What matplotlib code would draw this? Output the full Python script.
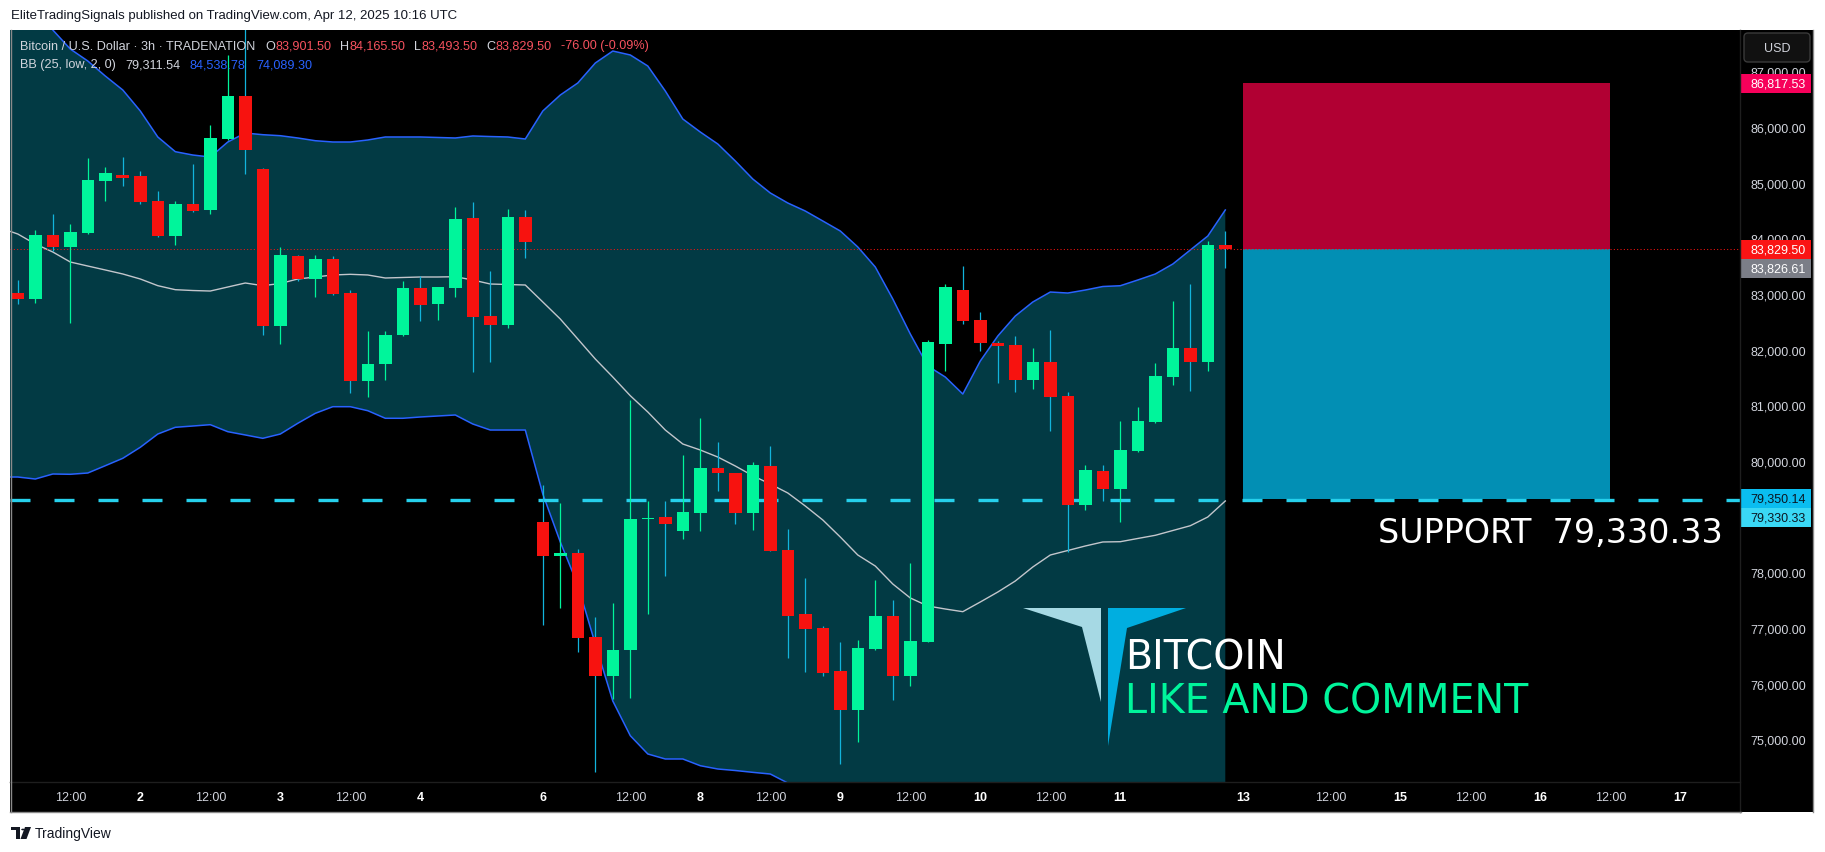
import numpy as np
import matplotlib.pyplot as plt
from matplotlib.patches import Rectangle, Polygon, FancyBboxPatch, Circle
from matplotlib.lines import Line2D
from matplotlib.transforms import IdentityTransform

plt.rcParams['font.family'] = ['Liberation Sans', 'DejaVu Sans']

W, H, DPI = 1825, 853, 100

# BTCUSD 3h bars (TRADENATION), Apr 1 - Apr 11 2025
opens = [83047, 82940, 84089, 83879, 84125, 85065, 85167, 85149, 84700, 84077,
         84646, 84538, 85814, 86586, 85275, 82460, 83712, 83299, 83658, 83047,
         81472, 81772, 82293, 83137, 82850, 83137, 84395, 82634, 82478, 84413,
         78939, 78328, 78377, 76868, 76173, 76634, 78988, 79029, 78778, 79101,
         79904, 79814, 79101, 79940, 78431, 77281, 77030, 76257, 75562, 76652,
         77245, 76173, 76784, 82137, 83101, 82562, 82155, 82113, 81490, 81808,
         81197, 79244, 79850, 79532, 80212, 80736, 81544, 82059, 81813, 83901.5]
highs = [83281, 84179, 84466, 84287, 85472, 85311, 85490, 85239, 84880, 84700,
         85365, 86065, 87323, 88500, 85290, 83874, 83730, 83730, 83712, 83101,
         82365, 82365, 83263, 83353, 83160, 84592, 84682, 83443, 84556, 84538,
         79598, 79275, 78449, 77227, 77478, 81125, 79311, 79311, 80137, 80802,
         80371, 79820, 80012, 80299, 78808, 77933, 77071, 76784, 76814, 77897,
         77532, 78197, 82203, 83209, 83532, 82706, 82191, 82275, 82059, 82383,
         81269, 79958, 79958, 80748, 81000, 81790, 82904, 83209, 83982, 84165.5]
lows = [82850, 82868, 83796, 82514, 84110, 84705, 84969, 84646, 84060, 83915,
        84510, 84466, 85790, 85185, 82293, 82131, 83263, 82975, 83011, 81256,
        81184, 81490, 82280, 82550, 82568, 82975, 81634, 81813, 82424, 83681,
        77089, 77384, 76604, 74438, 75754, 75767, 77276, 77969, 78628, 78767,
        79496, 78903, 78795, 78410, 76496, 76245, 76173, 74592, 74987, 76640,
        75742, 75993, 76773, 81652, 82496, 82011, 81436, 81274, 81328, 80574,
        78400, 79155, 79317, 78939, 80200, 80720, 81400, 81292, 81652, 83493.5]
closes = [82940, 84089, 83879, 84143, 85077, 85203, 85113, 84682, 84077, 84646,
          84526, 85832, 86586, 85621, 82460, 83730, 83299, 83658, 83029, 81472,
          81772, 82293, 83137, 82837, 83155, 84377, 82622, 82478, 84413, 83969,
          78328, 78371, 76856, 76173, 76634, 78988, 79000, 78903, 79114, 79904,
          79819, 79101, 79958, 78418, 77251, 77017, 76227, 75562, 76670, 77245,
          76173, 76796, 82167, 83155, 82550, 82155, 82101, 81490, 81808, 81184,
          79244, 79868, 79532, 80227, 80748, 81557, 82059, 81813, 83905.5, 83829.5]

# BB (25, low, 2, 0); the first value is the bar just left of the visible area
bb_upper = [88800,
            88472, 88149, 87772, 87430, 87215, 86945, 86694, 86317, 85850, 85586,
            85526, 85490, 85760, 85921, 85891, 85873, 85832, 85783, 85760, 85760,
            85796, 85850, 85850, 85850, 85841, 85832, 85868, 85858, 85850, 85814,
            86317, 86604, 86820, 87179, 87394, 87323, 87125, 86676, 86173, 85939,
            85724, 85419, 85095, 84844, 84664, 84520, 84341, 84161, 83874, 83514,
            82940, 82311, 81736, 81538, 81233, 81826, 82275, 82634, 82886, 83065,
            83047, 83101, 83164, 83178, 83281, 83389, 83568, 83820, 84071, 84538.78]
bb_basis = [84215,
            84107, 83928, 83784, 83604, 83532, 83461, 83389, 83299, 83179, 83107,
            83092, 83083, 83155, 83227, 83179, 83218, 83299, 83335, 83371, 83383,
            83371, 83317, 83326, 83335, 83335, 83340, 83281, 83209, 83200, 83191,
            82886, 82580, 82221, 81862, 81538, 81202, 80910, 80586, 80335, 80227,
            80101, 79940, 79765, 79616, 79455, 79221, 78970, 78664, 78341, 78143,
            77820, 77569, 77425, 77371, 77323, 77497, 77676, 77874, 78126, 78341,
            78422, 78503, 78575, 78580, 78638, 78695, 78781, 78867, 79024, 79311.54]
bb_lower = [79742,
            79742, 79706, 79796, 79791, 79814, 79945, 80078, 80276, 80514, 80635,
            80658, 80682, 80556, 80497, 80437, 80514, 80707, 80886, 81005, 81005,
            80933, 80797, 80797, 80820, 80838, 80856, 80694, 80586, 80586, 80586,
            79437, 78575, 77802, 76742, 75718, 75095, 74767, 74677, 74677, 74556,
            74497, 74470, 74437, 74407, 74245, 73922, 73599, 73168, 72808, 72773,
            72701, 72827, 73114, 73204, 73419, 73168, 73078, 73114, 73365, 73617,
            73796, 73904, 73985, 73982, 73994, 74001, 73994, 73922, 73976, 74089.30]

support = 79330.33
entry = 83829.50
stop = 86817.53
target = 79350.14
other_level = 83826.61
trade_start, trade_end = 70, 91

price_ticks = list(range(75000, 88000, 1000))
time_pos = [3, 7, 11, 15, 19, 23, 30, 35, 39, 43, 47, 51, 55, 59, 63, 70, 75, 79, 83, 87, 91, 95]
time_lbl = ['12:00', '2', '12:00', '3', '12:00', '4', '6', '12:00', '8', '12:00', '9', '12:00',
            '10', '12:00', '11', '13', '12:00', '15', '12:00', '16', '12:00', '17']

UP = '#00f59b'
DN = '#f7120f'
WICK_DN = '#12b4dc'
FILL = '#023a44'
BAND = '#2962ff'
BASIS = '#c3c6cc'
TXT = '#d1d4dc'
RED_TXT = '#f7525f'

# pixel layout of the reference
X0, BAR = 17.8, 17.5          # x pixel of bar 0, pixels per bar
PX_PER = 0.05567              # pixels per USD
Y75 = 742                     # y pixel of 75,000
TOP = 31
ymin = 75000 - (783 - Y75) / PX_PER
ymax = 75000 + (Y75 - TOP) / PX_PER
xlim = ((10 - X0) / BAR, (1740 - X0) / BAR)


def fx(px):
    return px / W


def fy(py):
    return 1 - py / H


def ft(x, y, s, **kw):
    return fig.text(fx(x), fy(y), s, **kw)


fig = plt.figure(figsize=(W / DPI, H / DPI), dpi=DPI, facecolor='white')

# dark panel
fig.add_artist(Rectangle((fx(10), fy(813)), 1803 / W, (813 - TOP) / H, transform=fig.transFigure,
                         facecolor='black', edgecolor='none', zorder=0))

ax = fig.add_axes([fx(10), fy(783), 1730 / W, (783 - TOP) / H])
ax.axis('off')
ax.set_xlim(*xlim)
ax.set_ylim(ymin, ymax)

n = len(opens)
x = np.arange(n)
bx = np.arange(-1, n)
ax.fill_between(bx, bb_lower, bb_upper, color=FILL, lw=0, zorder=1)
ax.plot(bx, bb_upper, color=BAND, lw=1.1, zorder=2)
ax.plot(bx, bb_lower, color=BAND, lw=1.1, zorder=2)
ax.plot(bx, bb_basis, color=BASIS, lw=1.0, zorder=2)

# position tool
ax.add_patch(Rectangle((trade_start, entry), trade_end - trade_start, stop - entry,
                       facecolor='#b10033', edgecolor='none', zorder=2.2))
ax.add_patch(Rectangle((trade_start, target), trade_end - trade_start, entry - target,
                       facecolor='#028fb4', edgecolor='none', zorder=2.2))

ax.axhline(entry, color=DN, lw=0.75, linestyle=(0, (1, 2.2)), zorder=2.5)
ax.axhline(support, color='#26d0ec', lw=2.4, linestyle=(0, (6.0, 7.2)), zorder=2.8)

o, h, l, c = (np.array(v, dtype=float) for v in (opens, highs, lows, closes))
up = c >= o
ax.vlines(x[up], l[up], h[up], color=UP, lw=0.9, zorder=4)
ax.vlines(x[~up], l[~up], h[~up], color=WICK_DN, lw=0.9, zorder=4)
body_lo = np.minimum(o, c)
body_h = np.maximum(np.abs(c - o), 20)
ax.bar(x, body_h, bottom=body_lo, width=0.72, color=np.where(up, UP, DN), lw=0, zorder=5)

# price axis
axp = fig.add_axes([fx(1740), fy(783), 73 / W, (783 - TOP) / H])
axp.axis('off')
axp.set_ylim(ymin, ymax)
axp.set_xlim(0, 1)
ytr = axp.get_yaxis_transform()
for p in price_ticks:
    axp.text(0.14, p, f'{p:,.2f}', transform=ytr, va='center', ha='left',
             fontsize=9, color=TXT, zorder=1)

step = 19 / PX_PER
badges = [(stop, stop, '#f7005a', 'white'),
          (entry, entry, '#fa1414', 'white'),
          (other_level, entry - step, '#7b7e87', 'white'),
          (target, target, '#0abdf0', '#0b1622'),
          (support, target - step, '#3ad8f5', '#0b1622')]
for val, yc, bg, fg in badges:
    axp.add_patch(Rectangle((0.01, yc - step / 2), 0.96, step, transform=ytr,
                            facecolor=bg, edgecolor='none', zorder=3))
    axp.text(0.14, yc, f'{val:,.2f}', transform=ytr, va='center', ha='left',
             fontsize=9, color=fg, zorder=4)

# time axis
axt = fig.add_axes([fx(10), fy(813), 1730 / W, 30 / H])
axt.axis('off')
axt.set_xlim(*xlim)
axt.set_ylim(0, 1)
for pos, lbl in zip(time_pos, time_lbl):
    day = lbl != '12:00'
    axt.text(pos, 0.5, lbl, ha='center', va='center', fontsize=9,
             color='white' if day else TXT, fontweight='bold' if day else 'normal')

# frame / separators
for xs, ys, col in [([10, 1740], [783, 783], '#1e1e1e'),
                    ([1740, 1740], [TOP, 813], '#1e1e1e'),
                    ([10.5, 10.5], [TOP, 813], '#8a8a8a'),
                    ([10, 1741], [812.5, 812.5], '#8a8a8a'),
                    ([1812.5, 1812.5], [TOP, 813], '#8a8a8a')]:
    fig.add_artist(Line2D([fx(v) for v in xs], [fy(v) for v in ys], color=col, lw=1,
                          transform=fig.transFigure, zorder=5))

# USD button
fig.add_artist(FancyBboxPatch((1744, H - 63), 66, 29, boxstyle='round,pad=0,rounding_size=4',
                              transform=IdentityTransform(), facecolor='#111111',
                              edgecolor='#3a3a3a', lw=1, zorder=6))
ft(1777, 48.5, 'USD', ha='center', va='center', fontsize=9, color=TXT, zorder=7)

# legend lines


def chain(xp, yp, pieces, size):
    t = ft(xp, yp, pieces[0][0], color=pieces[0][1], fontsize=size, va='center', zorder=10)
    for s, col, gap in pieces[1:]:
        t = ax.annotate(s, xy=(1, 0), xycoords=t, xytext=(gap, 0), textcoords='offset pixels',
                        ha='left', va='bottom', color=col, fontsize=size,
                        annotation_clip=False, zorder=10)


chg = closes[-1] - closes[-2]
pct = chg / closes[-2] * 100
chain(20, 46.5, [('Bitcoin / U.S. Dollar · 3h · TRADENATION', TXT, 0),
                 ('O', TXT, 10), (f'{opens[-1]:,.2f}', RED_TXT, 0),
                 ('H', TXT, 9), (f'{highs[-1]:,.2f}', RED_TXT, 0),
                 ('L', TXT, 9), (f'{lows[-1]:,.2f}', RED_TXT, 0),
                 ('C', TXT, 9), (f'{closes[-1]:,.2f}', RED_TXT, 0),
                 (f'{chg:,.2f} ({pct:.2f}%)', RED_TXT, 10)], 9.1)
chain(20, 65, [('BB (25, low, 2, 0)', TXT, 0),
               (f'{bb_basis[-1]:,.2f}', TXT, 9),
               (f'{bb_upper[-1]:,.2f}', BAND, 10),
               (f'{bb_lower[-1]:,.2f}', BAND, 10)], 9.1)

# annotations on the chart
ft(1723, 543, f'SUPPORT  {support:,.2f}', ha='right', va='baseline', fontsize=24,
   color='white', family='DejaVu Sans', zorder=10)

logo_l = [(1023, 609), (1101, 609), (1101, 703), (1082, 628)]
logo_r = [(1108, 609), (1186, 609), (1127, 629), (1108, 747)]
for pts, col in [(logo_l, '#a6d9e4'), (logo_r, '#00aee0')]:
    fig.add_artist(Polygon([(fx(a), fy(b)) for a, b in pts], closed=True,
                           transform=fig.transFigure, facecolor=col, edgecolor='none', zorder=8))
ft(1125, 669.5, 'BITCOIN', va='baseline', fontsize=28.5, color='white',
   family='DejaVu Sans', zorder=10)
ft(1125, 714, 'LIKE AND COMMENT', va='baseline', fontsize=28.5, color='#00f59b',
   family='DejaVu Sans', zorder=10)

# header / footer
ft(11, 16.5, 'EliteTradingSignals published on TradingView.com, Apr 12, 2025 10:16 UTC',
   va='center', ha='left', fontsize=9.5, color='#131722')
for patch in [Rectangle((fx(11), fy(831)), 9 / W, 3 / H),
              Rectangle((fx(16), fy(840)), 4 / W, 12 / H),
              Polygon([(fx(25), fy(828)), (fx(31), fy(828)), (fx(26.5), fy(840)), (fx(20.5), fy(840))])]:
    patch.set_transform(fig.transFigure)
    patch.set_facecolor('#131722')
    patch.set_edgecolor('none')
    fig.add_artist(patch)
fig.add_artist(Circle((fx(23), fy(830.5)), 1.8 / W, transform=fig.transFigure,
                      facecolor='#131722', edgecolor='none'))
ft(35, 834, 'TradingView', va='center', ha='left', fontsize=10, color='#131722')

fig.savefig('out.png', dpi=DPI, facecolor='white')
